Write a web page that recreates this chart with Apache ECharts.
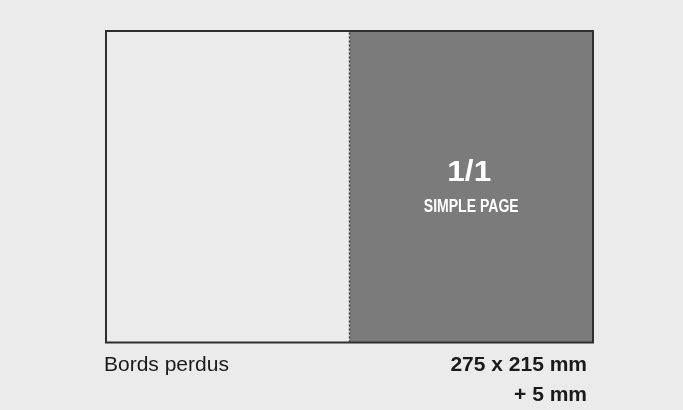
<!DOCTYPE html>
<html>
<head>
<meta charset="utf-8">
<script src="https://cdn.jsdelivr.net/npm/echarts@6/dist/echarts.min.js"></script>
<style>html,body{margin:0;padding:0;background:#ebebeb;}#c{width:683px;height:410px;}</style>
</head>
<body>
<div id="c"></div>
<script>
const pageStarts = [0, 1];
const pageEnds = [1, 2];
const pageNumbers = ['', '1/1'];
const pageNames = ['', 'SIMPLE PAGE'];
const foldX = [1, 1];
const foldY = [0, 1];
const captionLeft = 'Bords perdus';
const captionRight = ['275 x 215 mm', '+ 5 mm'];

const pageData = pageStarts.map((s, i) => [s, pageEnds[i], pageNumbers[i], pageNames[i]]);
const foldData = foldX.map((x, i) => [x, foldY[i]]);
const pageColors = ['#ebebeb', '#7b7b7b'];

const chart = echarts.init(document.getElementById('c'), null, {renderer: 'canvas'});
chart.setOption({
  backgroundColor: '#ebebeb',
  animation: false,
  title: [
    {text: captionLeft, left: 104, top: 355, padding: 0,
     textStyle: {fontFamily: 'Liberation Sans', fontSize: 21, fontWeight: 'normal', color: '#1a1a1a'}},
    {text: captionRight[0], right: 96, top: 355, padding: 0,
     textStyle: {fontFamily: 'Liberation Sans', fontSize: 21, fontWeight: 'bold', color: '#1a1a1a'}},
    {text: captionRight[1], right: 96, top: 385, padding: 0,
     textStyle: {fontFamily: 'Liberation Sans', fontSize: 21, fontWeight: 'bold', color: '#1a1a1a'}}
  ],
  grid: {left: 106, right: 90, top: 31, bottom: 67.5, show: true, z: 10, borderColor: '#2e2e2e', borderWidth: 2, backgroundColor: 'transparent', containLabel: false},
  xAxis: {type: 'value', min: 0, max: 2, show: false},
  yAxis: {type: 'value', min: 0, max: 1, show: false},
  series: [
    {
      type: 'custom',
      data: pageData,
      z: 1,
      renderItem: function (params, api) {
        const p0 = api.coord([api.value(0), 1]);
        const p1 = api.coord([api.value(1), 0]);
        const cx = (p0[0] + p1[0]) / 2;
        const cy = (p0[1] + p1[1]) / 2;
        const idx = params.dataIndex;
        return {
          type: 'group',
          children: [
            {type: 'rect', shape: {x: p0[0], y: p0[1], width: p1[0] - p0[0], height: p1[1] - p0[1]},
             style: {fill: pageColors[idx]}},
            {type: 'text', x: cx - 2, y: cy - 14.5, scaleX: 1.05, style: {text: pageData[idx][2], fill: '#fff', font: 'bold 30px "Liberation Sans"', align: 'center', verticalAlign: 'middle'}},
            {type: 'text', x: cx, y: cy + 20, scaleX: 0.78, style: {text: pageData[idx][3], fill: '#fff', font: 'bold 18px "Liberation Sans"', align: 'center', verticalAlign: 'middle'}}
          ]
        };
      }
    },
    {
      type: 'line',
      data: foldData,
      z: 3,
      symbol: 'none',
      lineStyle: {color: '#3a3a3a', width: 1.5, type: [2, 2]}
    }
  ]
});
</script>
</body>
</html>
